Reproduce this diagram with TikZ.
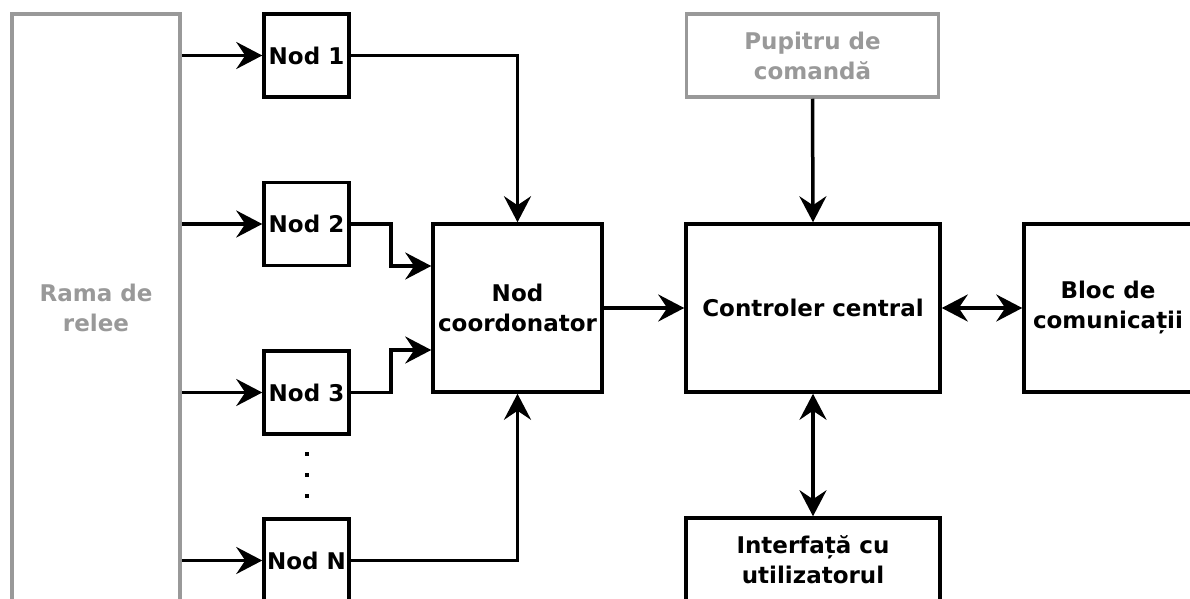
\documentclass[tikz,border=0pt]{standalone}
\usepackage{fontspec}
\setmainfont{DejaVu Sans}
\usetikzlibrary{arrows.meta}
\definecolor{frame}{RGB}{153,153,153}
\begin{document}
\begin{tikzpicture}[x=1pt,y=-1pt,
  block/.style={draw=black, line width=3.5pt, rectangle, inner sep=0pt,
    align=center, text=black, font=\bfseries\fontsize{23}{30}\selectfont},
  external/.style={block, draw=frame, text=frame},
  tipa/.tip={Stealth[length=26pt,width=27pt,inset=9pt]},
  conn/.style={line width=3.5pt, -tipa},
  biconn/.style={line width=3.5pt, tipa-tipa}]
\useasboundingbox (0,0) rectangle (1190,599);
\clip (0,0) rectangle (1190,599);

% relay frame and sensor nodes
\node[external, minimum width=168pt, minimum height=588pt] (rama) at (96,308) {Rama de\\relee};
\node[block, minimum width=85pt, minimum height=83pt] (n1) at (306.5,55.5) {Nod 1};
\node[block, minimum width=85pt, minimum height=83pt] (n2) at (306.5,224) {Nod 2};
\node[block, minimum width=85pt, minimum height=83pt] (n3) at (306.5,392.5) {Nod 3};
\node[block, minimum width=85pt, minimum height=83pt] (nN) at (306.5,560.5) {Nod N};
\foreach \y in {452,472.5,493.5} \fill (304.5,\y) rectangle ++(4,4);

% central blocks
\node[block, minimum width=169pt, minimum height=168pt] (coord) at (517.5,308) {Nod\\coordonator};
\node[block, minimum width=254pt, minimum height=168pt] (ctrl) at (813,308) {Controler central};
\node[external, minimum width=252pt, minimum height=83pt] (pup) at (812.5,55.5) {Pupitru de\\comandă};
\node[block, minimum width=168pt, minimum height=168pt] (bloc) at (1108,308) {Bloc de\\comunicații};
\node[block, minimum width=254pt, minimum height=84pt] (ui) at (813,560) {Interfață cu\\utilizatorul};

% frame to nodes
\foreach \n in {n1,n2,n3,nN} \draw[conn] (rama.east |- \n) -- (\n.west);

% nodes to coordinator
\draw[conn] (n1.east) -| (coord.north);
\draw[conn] (n2.east) -- ++(40,0) |- ([yshift=42pt]coord.west);
\draw[conn] (n3.east) -- ++(40,0) |- ([yshift=-42pt]coord.west);
\draw[conn] (nN.east) -| (coord.south);

% central controller links
\draw[conn] (coord.east) -- (ctrl.west);
\draw[conn] (pup.south) -- (ctrl.north);
\draw[biconn] (ctrl.east) -- (bloc.west);
\draw[biconn] (ctrl.south) -- (ui.north);
\end{tikzpicture}
\end{document}
